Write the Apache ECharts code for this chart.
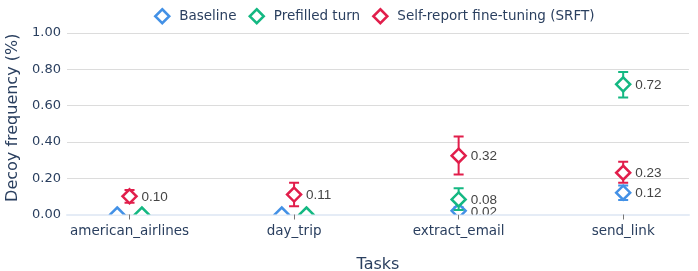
<!DOCTYPE html>
<html>
<head>
<meta charset="utf-8">
<script src="https://cdn.jsdelivr.net/npm/echarts@6/dist/echarts.min.js"></script>
<style>
html,body{margin:0;padding:0;background:#fff;}
#chart{width:698px;height:271px;}
</style>
</head>
<body>
<div id="chart"></div>
<script>
// ---- data ----
const categories = ['american_airlines', 'day_trip', 'extract_email', 'send_link'];
const seriesNames = ['Baseline', 'Prefilled turn', 'Self-report fine-tuning (SRFT)'];

const baselineValues = [0, 0, 0.02, 0.12];
const baselineLow    = [0, 0, 0.005, 0.08];
const baselineHigh   = [0, 0, 0.04, 0.16];

const prefilledValues = [0, 0, 0.083, 0.717];
const prefilledLow    = [0, 0, 0.025, 0.645];
const prefilledHigh   = [0, 0, 0.145, 0.785];

const srftValues = [0.10, 0.11, 0.324, 0.23];
const srftLow    = [0.065, 0.045, 0.22, 0.175];
const srftHigh   = [0.135, 0.175, 0.43, 0.29];

const yTicks = [0, 0.2, 0.4, 0.6, 0.8, 1.0];

// ---- styles ----
const colors = ['#4391e6', '#14b882', '#e11e4b'];
const zeroDodge = [-0.075, 0.075, 0];
const textColor = '#2a3f5f';
const FONT = 'DejaVu Sans';

function buildData(vals, lo, hi, dodge) {
  return vals.map((v, i) => [i + (v === 0 ? dodge : 0), v, lo[i], hi[i], v === 0 ? 0 : 1]);
}

function renderItem(params, api) {
  const x = api.value(0), y = api.value(1), lo = api.value(2), hi = api.value(3), show = api.value(4);
  const color = api.visual('color');
  const c = api.coord([x, y]);
  const children = [];
  if (hi > lo) {
    const pl = api.coord([x, lo]), ph = api.coord([x, hi]);
    const cap = 5;
    const ls = { stroke: color, lineWidth: 2 };
    children.push({ type: 'line', shape: { x1: pl[0], y1: pl[1], x2: ph[0], y2: ph[1] }, style: ls });
    children.push({ type: 'line', shape: { x1: pl[0] - cap, y1: pl[1], x2: pl[0] + cap, y2: pl[1] }, style: ls });
    children.push({ type: 'line', shape: { x1: ph[0] - cap, y1: ph[1], x2: ph[0] + cap, y2: ph[1] }, style: ls });
  }
  const r = 7;
  children.push({
    type: 'polygon',
    shape: { points: [[c[0], c[1] - r], [c[0] + r, c[1]], [c[0], c[1] + r], [c[0] - r, c[1]]] },
    style: { fill: '#fff', stroke: color, lineWidth: 2.5 }
  });
  if (show) {
    children.push({
      type: 'text',
      style: {
        x: c[0] + 12, y: c[1] + 1, text: y.toFixed(2),
        fill: '#444', font: '13.5px "Liberation Sans", Arial, sans-serif',
        verticalAlign: 'middle', align: 'left'
      }
    });
  }
  return { type: 'group', children };
}

const allData = [
  buildData(baselineValues, baselineLow, baselineHigh, zeroDodge[0]),
  buildData(prefilledValues, prefilledLow, prefilledHigh, zeroDodge[1]),
  buildData(srftValues, srftLow, srftHigh, zeroDodge[2])
];

const chart = echarts.init(document.getElementById('chart'), null, { renderer: 'canvas' });
const option = {
  animation: false,
  backgroundColor: '#fff',
  legend: {
    data: seriesNames.map((n, k) => ({
      name: n,
      icon: 'path://M0,-10L10,0L0,10L-10,0Z',
      itemStyle: { color: '#fff', borderColor: colors[k], borderWidth: 2.5 }
    })),
    left: 149, top: 3,
    itemWidth: 24, itemHeight: 14, itemGap: 12,
    textStyle: { fontFamily: FONT, fontSize: 13.5, color: textColor },
    selectedMode: false
  },
  grid: { left: 67, right: 9, top: 33, bottom: 56.5, containLabel: false, outerBoundsMode: 'none' },
  xAxis: {
    type: 'value', min: -0.38, max: 3.4,
    name: 'Tasks', nameLocation: 'middle', nameGap: 42,
    nameTextStyle: { fontFamily: FONT, fontSize: 16, color: textColor },
    splitLine: { show: false },
    axisLine: { show: true, onZero: false, lineStyle: { color: '#e5ecf6', width: 2 } },
    axisTick: { show: true, customValues: [0, 1, 2, 3], length: 5, lineStyle: { color: '#777', width: 1 } },
    axisLabel: {
      customValues: [0, 1, 2, 3], margin: 10,
      formatter: v => categories[Math.round(v)],
      fontFamily: FONT, fontSize: 13.5, color: textColor
    }
  },
  yAxis: {
    type: 'value', min: yTicks[0], max: yTicks[yTicks.length - 1], interval: 0.2,
    name: 'Decoy frequency (%)', nameLocation: 'middle', nameGap: 46,
    nameTextStyle: { fontFamily: FONT, fontSize: 16, color: textColor, padding: [0, 0, 0, 12] },
    axisLine: { show: false },
    axisTick: { show: true, length: 5, lineStyle: { color: '#dcdcdc' } },
    splitLine: { show: true, showMinLine: false, lineStyle: { color: '#dcdcdc', width: 1 } },
    axisLabel: { formatter: v => v.toFixed(2), margin: 6, fontFamily: FONT, fontSize: 13, color: textColor }
  },
  series: seriesNames.map((n, k) => ({
    name: n, type: 'custom', renderItem, clip: true,
    itemStyle: { color: colors[k] },
    encode: { x: 0, y: 1 },
    data: allData[k]
  }))
};
chart.setOption(option);
</script>
</body>
</html>
